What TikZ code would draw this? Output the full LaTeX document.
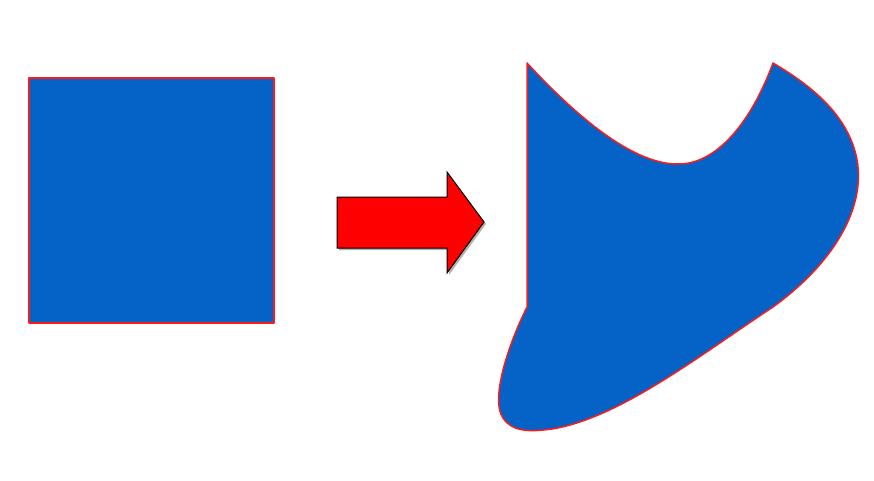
\documentclass[tikz,border=0pt]{standalone}
\usepackage{tikz}
\usetikzlibrary{calc}
\definecolor{shapeblue}{HTML}{0563C8}
\definecolor{edge}{HTML}{FF1A1A}
\tikzset{
  blob/.style={fill=shapeblue,draw=edge,line width=1.5pt,line join=round},
  bigarrow/.style={fill=red,draw=black,line width=1pt,line join=miter}
}

\begin{document}
\begin{tikzpicture}[x=1pt,y=-1pt]
 \useasboundingbox (0,0) rectangle (874,481);
 % source square
 \draw[blob] (29,78) rectangle (274,323);
 % arrow in between
 \fill[black!30] (339,199) -- (449,199) -- (449,174) -- (486,224) -- (449,275) -- (449,250) -- (339,250) -- cycle;
 \draw[bigarrow] (337,197) -- (447,197) -- (447,172) -- (484,222) -- (447,273) -- (447,248) -- (337,248) -- cycle;
 % deformed shape
 \draw[blob] (527,63) -- (527,307)
   .. controls (508,345) and (490,400) .. (503,418)
   .. controls (512,432) and (530,432) .. (552,429)
   .. controls (620,418) and (700,355) .. (773,307)
   .. controls (835,262) and (868,205) .. (856,155)
   .. controls (845,110) and (805,82) .. (773,63)
   .. controls (750,125) and (715,165) .. (677,164)
   .. controls (632,164) and (575,115) .. (527,63) -- cycle;
\end{tikzpicture}
\end{document}
